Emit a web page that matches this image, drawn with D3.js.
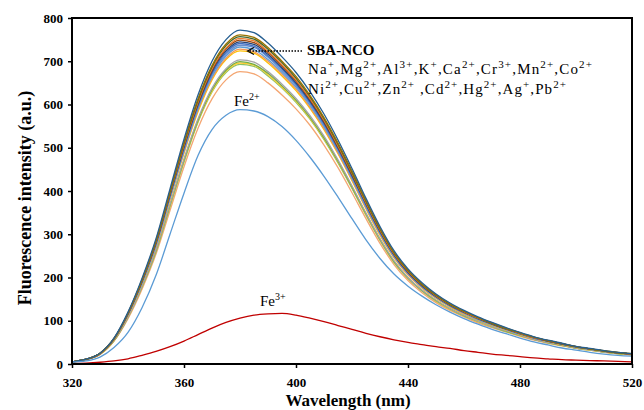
<!DOCTYPE html>
<html>
<head>
<meta charset="utf-8">
<script src="https://cdn.jsdelivr.net/npm/d3@7"></script>
<style>
  body { margin: 0; background: #fff; }
  svg text { font-family: "Liberation Serif", "Times New Roman", serif; }
  .tick text { font-size: 13px; font-weight: bold; fill: #000; }
</style>
</head>
<body>
<svg id="chart" width="644" height="410"></svg>
<script>
// Wavelength grid (nm)
const wavelengths = [320,325,330,335,340,345,350,355,360,365,370,375,380,385,390,395,400,405,410,415,420,
  425,430,435,440,445,450,455,460,465,470,475,480,485,490,495,500,505,510,515,520];

// Emission spectra, one array per sample
const curveA = [5,11,25,60,120,198,290,405,520,622,700,750,772,766,742,710,674,630,578,518,452,383,318,262,220,188,162,141,124,109,96,84,73,63,55,48,41,36,31,27,24];
const naPlus = [5,11,25,59,118,195,286,399,513,613,690,740,761,755,732,700,665,621,570,511,446,378,314,258,217,185,160,139,122,107,95,83,72,62,54,47,40,35,31,27,24];
const mg = [5,11,25,59,118,194,284,397,510,610,687,736,757,751,728,697,661,618,567,508,443,376,312,257,216,184,159,138,122,107,94,82,72,62,54,47,40,35,30,26,24];
const al = [5,11,24,58,117,193,283,395,507,606,683,731,753,747,723,692,657,614,564,505,441,373,310,255,215,183,158,137,121,106,94,82,71,61,54,47,40,35,30,26,23];
const kPlus = [5,11,24,58,116,192,281,393,504,603,679,728,749,743,720,689,654,611,561,502,438,372,308,254,213,182,157,137,120,106,93,81,71,61,53,47,40,35,30,26,23];
const ca = [5,11,24,58,116,191,280,391,502,600,676,724,745,739,716,685,650,608,558,500,436,370,307,253,212,181,156,136,120,105,93,81,70,61,53,46,40,35,30,26,23];
const cr = [5,11,24,58,115,190,278,389,499,597,672,720,741,735,712,682,647,605,555,497,434,368,305,252,211,180,156,135,119,105,92,81,70,60,53,46,39,35,30,26,23];
const mn = [5,11,24,57,115,189,277,387,497,594,669,716,737,732,709,678,644,602,552,495,432,366,304,250,210,180,155,135,118,104,92,80,70,60,53,46,39,34,30,26,23];
const co = [5,10,24,57,114,188,275,384,493,590,664,712,733,727,704,674,640,598,549,492,429,363,302,249,209,178,154,134,118,103,91,80,69,60,52,46,39,34,29,26,23];
const sbaNco = [5,10,24,57,113,187,273,382,490,587,660,707,728,722,700,670,636,594,545,488,426,361,300,247,207,177,153,133,117,103,91,79,69,59,52,45,39,34,29,25,23];
const ni = [5,10,23,56,113,186,272,380,488,583,657,704,724,719,696,666,632,591,542,486,424,359,298,246,206,176,152,132,116,102,90,79,68,59,52,45,38,34,29,25,23];
const cu = [5,10,23,55,109,180,264,369,474,567,638,683,703,698,676,647,614,574,527,472,412,349,290,239,200,171,148,128,113,99,87,77,67,57,50,44,37,33,28,25,22];
const zn = [5,10,23,54,109,179,262,367,471,563,634,679,699,693,672,643,610,570,523,469,409,347,288,237,199,170,147,128,112,99,87,76,66,57,50,43,37,33,28,24,22];
const cd = [5,10,23,54,108,179,262,365,469,561,631,677,696,691,669,640,608,568,521,467,408,345,287,236,198,170,146,127,112,98,87,76,66,57,50,43,37,32,28,24,22];
const hg = [4,10,22,54,108,178,260,364,467,559,629,674,693,688,666,638,605,566,519,465,406,344,286,235,198,169,145,127,111,98,86,75,66,57,49,43,37,32,28,24,22];
const pb = [4,10,22,53,105,173,254,355,456,545,613,657,676,671,650,622,590,552,506,454,396,336,279,230,193,165,142,124,109,95,84,74,64,55,48,42,36,32,27,24,21];
const fe2 = [4,7,16,38,73,130,205,300,395,482,542,575,588,585,572,549,517,478,434,386,336,287,244,208,180,157,137,120,105,92,80,70,60,51,44,37,32,27,23,20,18];
const fe3 = [1,2,4,7,12,20,29,40,53,68,83,96,106,113,116,117,113,106,98,89,80,71,63,56,50,45,40,36,31,27,23,20,17,14,12,10,9,8,7,6,5];

const xTicks = [320, 360, 400, 440, 480, 520];
const yTicks = [0, 100, 200, 300, 400, 500, 600, 700, 800];

const series = [
  { values: pb, color: "#F4A672" },
  { values: hg, color: "#8CC168" },
  { values: cd, color: "#FFCD33" },
  { values: zn, color: "#70AD47" },
  { values: cu, color: "#A5A5A5" },
  { values: ni, color: "#FFC000" },
  { values: sbaNco, color: "#F1975A" },
  { values: co, color: "#5B9BD5" },
  { values: mn, color: "#698ED0" },
  { values: cr, color: "#4472C4" },
  { values: ca, color: "#264478" },
  { values: kPlus, color: "#9E480E" },
  { values: al, color: "#ED7D31" },
  { values: mg, color: "#43682B" },
  { values: naPlus, color: "#997300" },
  { values: curveA, color: "#255E91" },
  { values: fe2, color: "#5B9BD5" },
  { values: fe3, color: "#C00000" }
];

const svg = d3.select("#chart");
const plotLeft = 72, plotRight = 632, plotTop = 18, plotBottom = 364;

const x = d3.scaleLinear().domain([320, 520]).range([plotLeft, plotRight]);
const y = d3.scaleLinear().domain([0, 800]).range([plotBottom, plotTop]);

// Axes
const xAxis = svg.append("g")
  .attr("transform", `translate(0,${plotBottom})`)
  .call(d3.axisBottom(x).tickValues(xTicks).tickSize(4).tickSizeOuter(0).tickPadding(10));
const yAxis = svg.append("g")
  .attr("transform", `translate(${plotLeft},0)`)
  .call(d3.axisLeft(y).tickValues(yTicks).tickSize(4).tickSizeOuter(0).tickPadding(5));
[xAxis, yAxis].forEach(g => {
  g.select(".domain").remove();
  g.selectAll(".tick line").attr("stroke", "#000").attr("stroke-width", 1.5);
});

// Spectra
const line = d3.line()
  .x((d, i) => x(wavelengths[i]))
  .y(d => y(d))
  .curve(d3.curveMonotoneX);

svg.append("g")
  .selectAll("path")
  .data(series)
  .join("path")
  .attr("d", d => line(d.values))
  .attr("fill", "none")
  .attr("stroke", d => d.color)
  .attr("stroke-width", 1.3);

// Plot frame
svg.append("rect")
  .attr("x", plotLeft).attr("y", plotTop)
  .attr("width", plotRight - plotLeft).attr("height", plotBottom - plotTop)
  .attr("fill", "none")
  .attr("stroke", "#000")
  .attr("stroke-width", 2);

// Axis titles
svg.append("text")
  .attr("x", (plotLeft + plotRight) / 2 - 4)
  .attr("y", 406)
  .attr("text-anchor", "middle")
  .style("font-size", "17px")
  .style("font-weight", "bold")
  .text("Wavelength (nm)");

svg.append("text")
  .attr("transform", "translate(31,198) rotate(-90)")
  .attr("text-anchor", "middle")
  .style("font-size", "18px")
  .style("font-weight", "bold")
  .text("Fluorescence intensity (a.u.)");

// Text with superscripts, written as "Fe^{2+}"
function richText(str, px, py, size, supSize, width) {
  const t = svg.append("text")
    .attr("x", px).attr("y", py)
    .style("font-size", size + "px");
  const parts = str.split(/(\^\{[^}]*\})/).filter(s => s.length);
  let raised = false;
  parts.forEach(p => {
    if (p.startsWith("^{")) {
      t.append("tspan").attr("dy", -6).style("font-size", supSize + "px").text(p.slice(2, -1));
      raised = true;
    } else {
      t.append("tspan").attr("dy", raised ? 6 : 0).text(p);
      raised = false;
    }
  });
  if (width) t.attr("textLength", width).attr("lengthAdjust", "spacing");
  return t;
}

svg.append("text")
  .attr("x", 307).attr("y", 55)
  .style("font-size", "15px")
  .style("font-weight", "bold")
  .text("SBA-NCO");

richText("Na^{+},Mg^{2+},Al^{3+},K^{+},Ca^{2+},Cr^{3+},Mn^{2+},Co^{2+}", 308, 74, 15, 11, 284);
richText("Ni^{2+},Cu^{2+},Zn^{2+} ,Cd^{2+},Hg^{2+},Ag^{+},Pb^{2+}", 308, 94, 15, 11, 258);
richText("Fe^{2+}", 234, 106, 15, 10);
richText("Fe^{3+}", 260, 306, 15, 10);

// Dotted arrow pointing at the SBA-NCO curve
svg.append("line")
  .attr("x1", 302).attr("y1", 51).attr("x2", 248).attr("y2", 51)
  .attr("stroke", "#000").attr("stroke-width", 1.3)
  .attr("stroke-dasharray", "1.5,1.5");
svg.append("polyline")
  .attr("points", "254,47.5 247.5,51 254,54.5")
  .attr("fill", "none").attr("stroke", "#000").attr("stroke-width", 1.2);
</script>
</body>
</html>
